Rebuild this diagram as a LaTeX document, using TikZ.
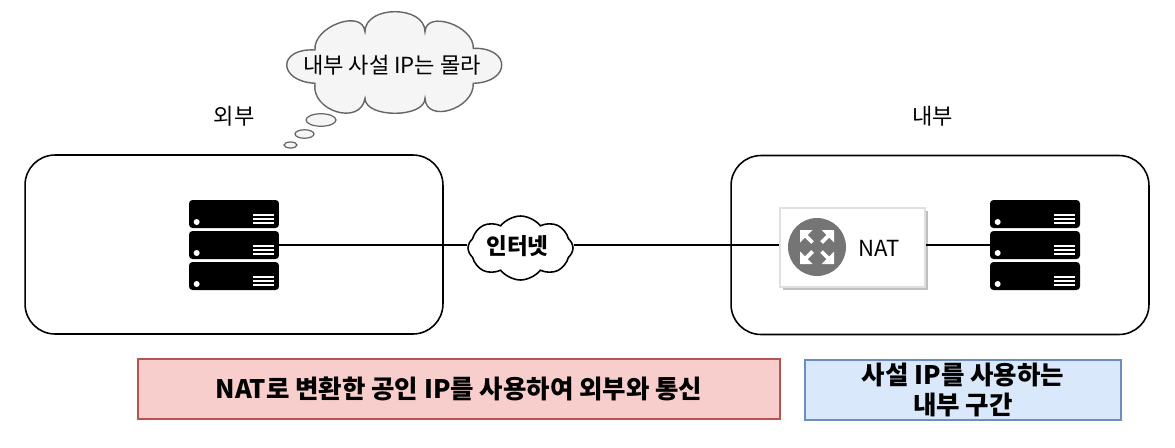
\documentclass[tikz,border=0pt]{standalone}
\usepackage{fontspec}
\setmainfont{Noto Sans CJK KR}
\usetikzlibrary{arrows.meta, positioning, shapes.symbols, shapes.geometric, shadows}
\definecolor{thoughtfill}{HTML}{F5F5F5}
\definecolor{thoughtline}{HTML}{666666}
\definecolor{redfill}{HTML}{F8CECC}
\definecolor{redline}{HTML}{B85450}
\definecolor{bluefill}{HTML}{DAE8FC}
\definecolor{blueline}{HTML}{6C8EBF}
\definecolor{iconfill}{HTML}{757575}

\begin{document}
\begin{tikzpicture}[
    x=0.02cm, y=-0.02cm,
    >=Latex,
    zonebox/.style={draw, line width=0.9pt, rounded corners=0.6cm, minimum width=8.36cm, minimum height=3.58cm}, % Style for the two zones
    rack/.style={fill=black, rounded corners=2pt, minimum width=1.8cm, minimum height=0.56cm, inner sep=0pt}, % Style for server slices
    link/.style={line width=0.8pt}, % Style for connecting lines
    label/.style={font=\fontsize{12.6}{15}\selectfont}, % Style for plain labels
    note/.style={draw, line width=0.7pt, font=\bfseries\fontsize{14.5}{17.5}\selectfont, align=center, inner sep=0pt}, % Style for the bottom bars
    puff/.style={ellipse, draw=thoughtline, fill=thoughtfill, line width=0.7pt, inner sep=0pt} % Style for thought bubbles
]

    \useasboundingbox (0, 0) rectangle (1175, 447);

    % Zones
    \node[zonebox] (outside) at (234, 244.5) {};
    \node[zonebox] (inside) at (940, 245) {};
    \node[label, above=0.44cm of outside] (outsidelabel) {외부};
    \node[label, above=0.44cm of inside, xshift=-0.15cm] (insidelabel) {내부};

    % Thought cloud
    \draw[draw=thoughtline, fill=thoughtfill, line width=0.8pt] (315, 50)
        .. controls (277.3, 47.8) and (277.3, 81.1) .. (315, 83.3)
        .. controls (310.6, 111.2) and (360.6, 126.2) .. (365, 98.3)
        .. controls (365, 118.3) and (425, 118.3) .. (425, 98.3)
        .. controls (426.1, 123.9) and (474.4, 108.9) .. (473.3, 83.3)
        .. controls (511.2, 82.3) and (511.2, 47.3) .. (473.3, 48.3)
        .. controls (474.4, 26) and (426.1, 9.4) .. (425, 31.7)
        .. controls (425, 5) and (365, 5) .. (365, 31.7)
        .. controls (362.7, 8.2) and (312.7, 26.5) .. (315, 50) -- cycle;
    \node[label] (thoughttext) at (392, 65) {내부 사설 IP는 몰라};
    \node[puff, minimum width=0.6cm, minimum height=0.25cm] (puffa) at (321, 120) {};
    \node[puff, minimum width=0.38cm, minimum height=0.17cm] (puffb) at (304.5, 134) {};
    \node[puff, minimum width=0.26cm, minimum height=0.12cm] (puffc) at (290.5, 145) {};

    % Internet cloud
    \node[cloud, cloud puffs=8, cloud puff arc=105, aspect=1.65, draw, fill=white, line width=0.9pt,
          minimum width=2.1cm, minimum height=1.28cm, inner sep=0pt] (internet) at (520.5, 248) {};
    \node[font=\bfseries\fontsize{12.8}{15}\selectfont] (internettext) at (517.5, 246) {인터넷};

    % Left server
    \node[rack] (lefta) at (234, 214) {};
    \node[rack] (leftb) at (234, 245) {};
    \node[rack] (leftc) at (234, 276) {};

    % Right server
    \node[rack] (righta) at (1035, 214) {};
    \node[rack] (rightb) at (1035, 245) {};
    \node[rack] (rightc) at (1035, 276) {};

    % Rack details
    \foreach \rackname in {lefta, leftb, leftc, righta, rightb, rightc} {
        \fill[white] ([xshift=0.16cm, yshift=-0.16cm]\rackname.west) circle (0.06cm);
        \foreach \rowy in {-0.02, -0.1, -0.18} {
            \draw[white, line width=1pt] ([xshift=-0.52cm, yshift=\rowy cm]\rackname.east) -- ++(0.42cm, 0);
        }
    }

    % NAT box
    \node[draw=black!12, fill=white, line width=0.7pt, minimum width=2.9cm, minimum height=1.58cm, inner sep=0pt,
          drop shadow={shadow xshift=0.05cm, shadow yshift=-0.06cm, opacity=0.25, fill=black}] (natbox) at (852.5, 247.5) {};
    \node[circle, fill=iconfill, minimum size=1.16cm, inner sep=0pt] (naticon) at (817, 247) {};
    \node[label] (nattext) at (879.5, 248) {NAT};
    \foreach \sx/\sy in {-1/-1, 1/-1, -1/1, 1/1} {
        \fill[white] ([shift={(\sx*0.34cm, \sy*0.34cm)}]naticon.center) -- ++(-\sx*0.25cm, 0) -- ++(\sx*0.25cm, -\sy*0.25cm) -- cycle;
        \draw[white, line width=2.2pt] ([shift={(\sx*0.09cm, \sy*0.09cm)}]naticon.center) -- ([shift={(\sx*0.26cm, \sy*0.26cm)}]naticon.center);
    }

    % Links
    \draw[link] (leftb.east) -- (leftb.east -| internet.west);
    \draw[link] (leftb.east -| internet.east) -- (leftb.east -| natbox.west);
    \draw[link] (leftb.east -| natbox.east) -- (rightb.west);

    % Bottom bars
    \node[note, fill=redfill, draw=redline, minimum width=12.84cm, minimum height=1.2cm] (publicnote) at (459, 389) {NAT로 변환한 공인 IP를 사용하여 외부와 통신};
    \node[note, fill=bluefill, draw=blueline, minimum width=6.32cm, minimum height=1.2cm] (privatenote) at (963, 390) {사설 IP를 사용하는\\내부 구간};

\end{tikzpicture}
\end{document}
